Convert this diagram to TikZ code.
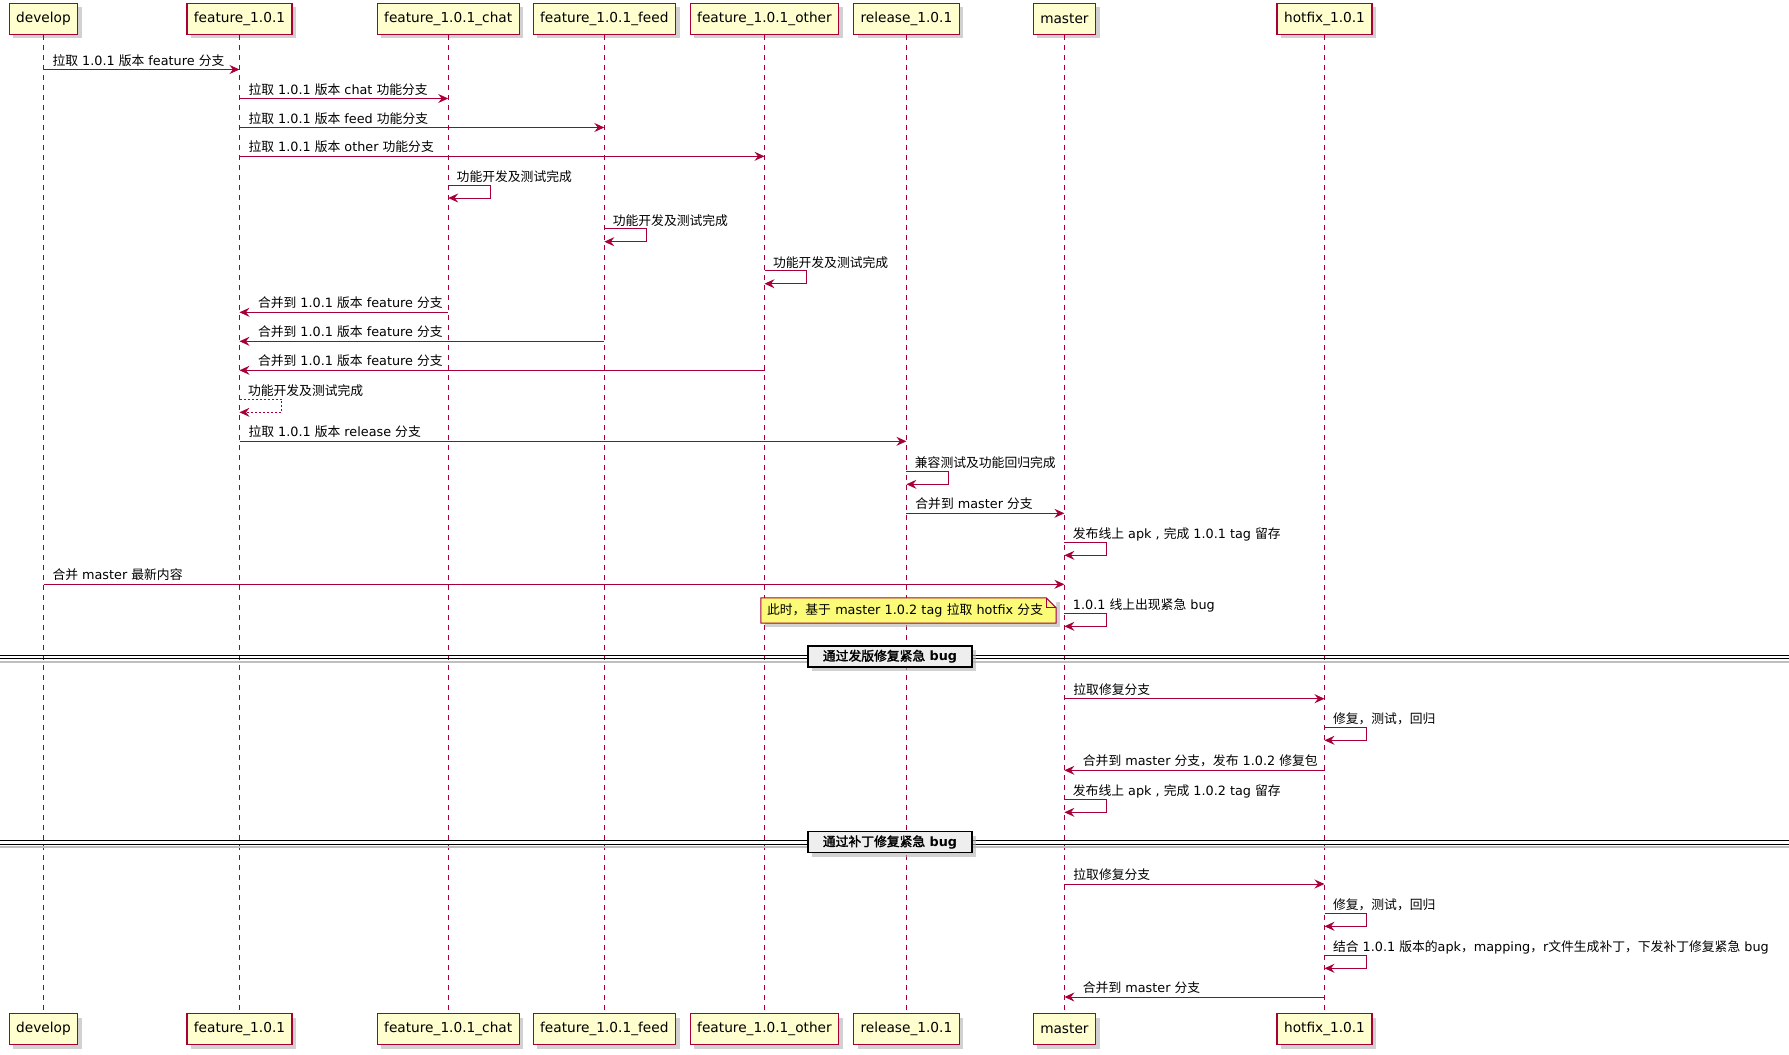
\documentclass[tikz,border=0pt]{standalone}
\usepackage{fontspec}
\setmainfont{DejaVu Sans}
\newfontfamily\enfont{DejaVu Sans}
\newfontfamily\zhfont{Noto Sans CJK SC}[AutoFakeBold=2]
% switch to the CJK font for Han characters and back
\XeTeXinterchartokenstate=1
\newXeTeXintercharclass\zhclass
\newcount\zhcnt
\zhcnt="2E80
\loop
  \XeTeXcharclass\zhcnt=\zhclass
  \advance\zhcnt by 1
\ifnum\zhcnt<"A000 \repeat
\zhcnt="FF00
\loop
  \XeTeXcharclass\zhcnt=\zhclass
  \advance\zhcnt by 1
\ifnum\zhcnt<"FFF0 \repeat
\XeTeXinterchartoks 0 \zhclass = {\zhfont}
\XeTeXinterchartoks 4095 \zhclass = {\zhfont}
\XeTeXinterchartoks \zhclass 0 = {\enfont}
\XeTeXinterchartoks \zhclass 4095 = {\enfont}
\usepackage{tikz}
\usetikzlibrary{
  arrows.meta,
  shadows
}
\usepackage{xcolor}
\definecolor{seqred}{RGB}{168, 0, 54}
\definecolor{partfill}{RGB}{254, 254, 206}
\definecolor{notefill}{RGB}{251, 251, 119}
\definecolor{divfill}{RGB}{238, 238, 238}
\tikzset{
  % participant boxes
  partbox/.style  = {draw=seqred, fill=partfill, line width=1.2pt,
                     minimum height=31pt, inner xsep=7pt, inner ysep=0pt,
                     font=\fontsize{13.7}{16}\selectfont,
                     drop shadow={shadow xshift=4pt, shadow yshift=-4pt,
                                  fill=black!30, opacity=0.6}},
  % lifelines
  lifeline/.style = {draw=seqred, line width=0.9pt, dash pattern=on 5pt off 5pt},
  % messages
  msgline/.style  = {draw=seqred, line width=1pt,
                     -{Stealth[length=10pt, width=9pt, inset=3.5pt]}},
  retline/.style  = {msgline, dash pattern=on 2pt off 2pt},
  msglab/.style   = {font=\fontsize{12.8}{15}\selectfont, anchor=base west,
                     inner sep=0pt, text=black},
  fwdlab/.style   = {msglab, pos=0, xshift=8.5pt, yshift=4.5pt},
  backlab/.style  = {msglab, pos=1, xshift=18pt, yshift=4.5pt},
  selflab/.style  = {msglab, xshift=8pt, yshift=3.6pt},
  % note and dividers
  notebox/.style  = {fill=notefill, text width=283pt, align=left,
                     minimum height=25pt, inner xsep=6pt, inner ysep=0pt,
                     font=\fontsize{12.8}{15}\selectfont,
                     drop shadow={shadow xshift=4pt, shadow yshift=-4pt,
                                  fill=black!30, opacity=0.6}},
  divbox/.style   = {draw=black, fill=divfill, line width=1.5pt,
                     minimum width=164pt, minimum height=21pt, inner sep=0pt,
                     font=\fontsize{12.8}{15}\selectfont\bfseries,
                     drop shadow={shadow xshift=4pt, shadow yshift=-4pt,
                                  fill=black!30, opacity=0.6}},
  divline/.style  = {draw=black, line width=1pt},
}

\begin{document}
\begin{tikzpicture}[x=1pt, y=-1pt]
  \pgfmathsetmacro{\lw}{42}
  \pgfmathsetmacro{\lh}{13}
  \useasboundingbox (0,0) rectangle (1789,1055);
  % participants (top)
  \node[partbox] (dev)   at (43.5,18.7)   {develop};
  \node[partbox] (feat)  at (239.5,18.7)  {feature\_1.0.1};
  \node[partbox] (chat)  at (448.2,18.7)  {feature\_1.0.1\_chat};
  \node[partbox] (feed)  at (604.3,18.7)  {feature\_1.0.1\_feed};
  \node[partbox] (other) at (764.5,18.7)  {feature\_1.0.1\_other};
  \node[partbox] (rel)   at (906.4,18.7)  {release\_1.0.1};
  \node[partbox] (mst)   at (1064.4,18.7) {master};
  \node[partbox] (hfx)   at (1324.5,18.7) {hotfix\_1.0.1};
  % participants (bottom)
  \node[partbox] (dev2)   at (43.5,1029.2)   {develop};
  \node[partbox] (feat2)  at (239.5,1029.2)  {feature\_1.0.1};
  \node[partbox] (chat2)  at (448.2,1029.2)  {feature\_1.0.1\_chat};
  \node[partbox] (feed2)  at (604.3,1029.2)  {feature\_1.0.1\_feed};
  \node[partbox] (other2) at (764.5,1029.2)  {feature\_1.0.1\_other};
  \node[partbox] (rel2)   at (906.4,1029.2)  {release\_1.0.1};
  \node[partbox] (mst2)   at (1064.4,1029.2) {master};
  \node[partbox] (hfx2)   at (1324.5,1029.2) {hotfix\_1.0.1};
  % lifelines
  \draw[lifeline] (dev) -- (dev2);
  \draw[lifeline] (feat) -- (feat2);
  \draw[lifeline] (chat) -- (chat2);
  \draw[lifeline] (feed) -- (feed2);
  \draw[lifeline] (other) -- (other2);
  \draw[lifeline] (rel) -- (rel2);
  \draw[lifeline] (mst) -- (mst2);
  \draw[lifeline] (hfx) -- (hfx2);
  % feature branches
  \draw[msgline] (dev |- 0,69.5) -- (feat |- 0,69.5) node[fwdlab] {拉取 1.0.1 版本 feature 分支};
  \draw[msgline] (feat |- 0,98.5) -- (chat |- 0,98.5) node[fwdlab] {拉取 1.0.1 版本 chat 功能分支};
  \draw[msgline] (feat |- 0,127.5) -- (feed |- 0,127.5) node[fwdlab] {拉取 1.0.1 版本 feed 功能分支};
  \draw[msgline] (feat |- 0,156.3) -- (other |- 0,156.3) node[fwdlab] {拉取 1.0.1 版本 other 功能分支};
  \draw[msgline] (chat |- 0,185) node[selflab] {功能开发及测试完成} -| ++(\lw,\lh) -- (chat |- 0,198);
  \draw[msgline] (feed |- 0,228.7) node[selflab] {功能开发及测试完成} -| ++(\lw,\lh) -- (feed |- 0,241.7);
  \draw[msgline] (other |- 0,270.7) node[selflab] {功能开发及测试完成} -| ++(\lw,\lh) -- (other |- 0,283.7);
  \draw[msgline] (chat |- 0,312.3) -- (feat |- 0,312.3) node[backlab] {合并到 1.0.1 版本 feature 分支};
  \draw[msgline] (feed |- 0,341.3) -- (feat |- 0,341.3) node[backlab] {合并到 1.0.1 版本 feature 分支};
  \draw[msgline] (other |- 0,370.3) -- (feat |- 0,370.3) node[backlab] {合并到 1.0.1 版本 feature 分支};
  \draw[retline] (feat |- 0,399.3) node[selflab] {功能开发及测试完成} -| ++(\lw,\lh) -- (feat |- 0,412.3);
  % release
  \draw[msgline] (feat |- 0,441.3) -- (rel |- 0,441.3) node[fwdlab] {拉取 1.0.1 版本 release 分支};
  \draw[msgline] (rel |- 0,471.3) node[selflab] {兼容测试及功能回归完成} -| ++(\lw,\lh) -- (rel |- 0,484.3);
  \draw[msgline] (rel |- 0,513.3) -- (mst |- 0,513.3) node[fwdlab] {合并到 master 分支};
  \draw[msgline] (mst |- 0,542.3) node[selflab] {发布线上 apk , 完成 1.0.1 tag 留存} -| ++(\lw,\lh) -- (mst |- 0,555.3);
  \draw[msgline] (dev |- 0,584.3) -- (mst |- 0,584.3) node[fwdlab] {合并 master 最新内容};
  \draw[msgline] (mst |- 0,613.3) node[selflab] {1.0.1 线上出现紧急 bug} -| ++(\lw,\lh) -- (mst |- 0,626.3);
  % note
  \node[notebox] (note) at (908.5,610.5) {此时，基于 master 1.0.2 tag 拉取 hotfix 分支};
  \fill[white] ([xshift=-10pt]note.north east) -- (note.north east) -- ([yshift=-10pt]note.north east) -- cycle;
  \draw[seqred, line width=1pt] (note.north west) -- ([xshift=-10pt]note.north east)
    -- ([yshift=-10pt]note.north east) -- (note.south east) -- (note.south west) -- cycle;
  \draw[seqred, line width=1pt] ([xshift=-10pt]note.north east) |- ([yshift=-10pt]note.north east);
  % divider 1
  \draw[black!25, line width=2pt] (0,661.5) -- (1789,661.5);
  \draw[divline] (0,655) -- (1789,655);
  \draw[divline] (0,658.5) -- (1789,658.5);
  \node[divbox] (div1) at (890,656.6) {通过发版修复紧急 bug};
  % hotfix by release
  \draw[msgline] (mst |- 0,698.7) -- (hfx |- 0,698.7) node[fwdlab] {拉取修复分支};
  \draw[msgline] (hfx |- 0,727.3) node[selflab] {修复，测试，回归} -| ++(\lw,\lh) -- (hfx |- 0,740.3);
  \draw[msgline] (hfx |- 0,770.3) -- (mst |- 0,770.3) node[backlab] {合并到 master 分支，发布 1.0.2 修复包};
  \draw[msgline] (mst |- 0,799.3) node[selflab] {发布线上 apk , 完成 1.0.2 tag 留存} -| ++(\lw,\lh) -- (mst |- 0,812.3);
  % divider 2
  \draw[black!25, line width=2pt] (0,847) -- (1789,847);
  \draw[divline] (0,840.5) -- (1789,840.5);
  \draw[divline] (0,844) -- (1789,844);
  \node[divbox] (div2) at (890,842.2) {通过补丁修复紧急 bug};
  % hotfix by patch
  \draw[msgline] (mst |- 0,884) -- (hfx |- 0,884) node[fwdlab] {拉取修复分支};
  \draw[msgline] (hfx |- 0,913.3) node[selflab] {修复，测试，回归} -| ++(\lw,\lh) -- (hfx |- 0,926.3);
  \draw[msgline] (hfx |- 0,955.3) node[selflab] {结合 1.0.1 版本的apk，mapping，r文件生成补丁，下发补丁修复紧急 bug} -| ++(\lw,\lh) -- (hfx |- 0,968.3);
  \draw[msgline] (hfx |- 0,997) -- (mst |- 0,997) node[backlab] {合并到 master 分支};
\end{tikzpicture}
\end{document}
